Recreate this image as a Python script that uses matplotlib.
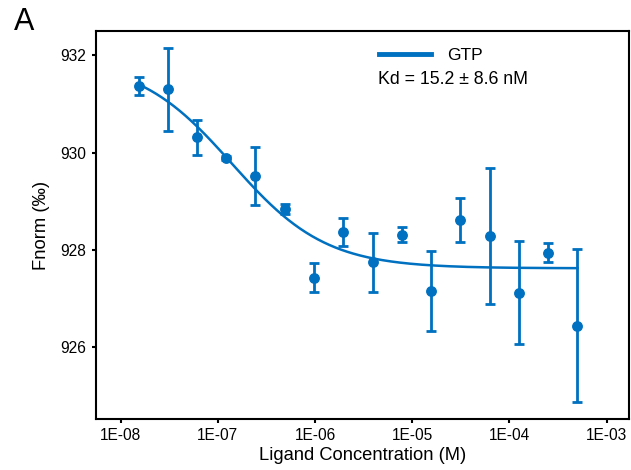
#Python script that plots the MST binding curve (Fnorm vs ligand concentration)

import matplotlib
matplotlib.use("Agg")
import matplotlib.pyplot as plt
import numpy as np

plt.rcParams['font.family'] = ['Liberation Sans', 'DejaVu Sans']

# Ligand concentration (M), two-fold dilution series
conc = [1.53e-8, 3.05e-8, 6.10e-8, 1.22e-7, 2.44e-7, 4.88e-7, 9.77e-7, 1.95e-6,
        3.91e-6, 7.81e-6, 1.56e-5, 3.13e-5, 6.25e-5, 1.25e-4, 2.50e-4, 5.00e-4]
# Normalised fluorescence (per mille) and error
fnorm = [931.37, 931.30, 930.31, 929.88, 929.52, 928.84, 927.43, 928.36,
         927.74, 928.31, 927.15, 928.61, 928.29, 927.12, 927.94, 926.44]
fnorm_err = [0.19, 0.85, 0.37, 0.04, 0.60, 0.10, 0.30, 0.29,
             0.60, 0.15, 0.82, 0.45, 1.40, 1.06, 0.19, 1.57]

# Parameters of the drawn fit curve
fit_bottom = 927.62
fit_amp = 4.3
fit_mid = 1.4e-7
fit_slope = 0.9

label = "GTP"
kd_text = "Kd = 15.2 \u00b1 8.6 nM"
xticks = [1e-8, 1e-7, 1e-6, 1e-5, 1e-4, 1e-3]
yticks = [926, 928, 930, 932]

blue = '#0070c0'

fig = plt.figure(figsize=(6.31, 4.70), dpi=100)
ax = fig.add_axes([0.152, 0.1085, 0.845, 0.8255])

# fit line
x_fit = np.logspace(np.log10(min(conc)), np.log10(max(conc)), 300)
y_fit = fit_bottom + fit_amp / (1 + (x_fit / fit_mid) ** fit_slope)
ax.plot(x_fit, y_fit, color=blue, lw=1.8, label=label, zorder=2)

# data points with error bars
ax.errorbar(conc, fnorm, yerr=fnorm_err, fmt='o', color=blue, ms=6.8,
            elinewidth=2.0, capsize=3.8, capthick=2.0, zorder=3)

ax.set_xscale('log')
ax.set_xlim(5.57e-9, 1.70e-3)
ax.set_ylim(924.52, 932.50)
ax.set_xticks(xticks)
ax.xaxis.set_minor_locator(matplotlib.ticker.NullLocator())
ax.xaxis.set_major_formatter(plt.FuncFormatter(lambda x, pos: "{:.0E}".format(x)))
ax.set_yticks(yticks)

for sp in ax.spines.values():
    sp.set_linewidth(1.5)
    sp.set_color('black')
ax.tick_params(axis='both', which='major', direction='out', length=3.2,
               width=1.5, labelsize=11.2, pad=3.5, colors='black')

ax.set_xlabel('Ligand Concentration (M)', fontsize=13.2, labelpad=3)
ax.set_ylabel('Fnorm (\u2030)', fontsize=13.2, labelpad=8)

leg = ax.legend(loc='center left', bbox_to_anchor=(0.531, 0.938), frameon=False,
                fontsize=12.5, handlelength=3.0, handletextpad=0.9,
                borderpad=0, borderaxespad=0)
for h in leg.get_lines():
    h.set_linewidth(3.5)
ax.text(0.529, 0.874, kd_text, transform=ax.transAxes, fontsize=12.8,
        ha='left', va='center')

fig.text(0.022, 0.953, 'A', fontsize=22, ha='left', va='center')

plt.savefig('out.png', dpi=100)
